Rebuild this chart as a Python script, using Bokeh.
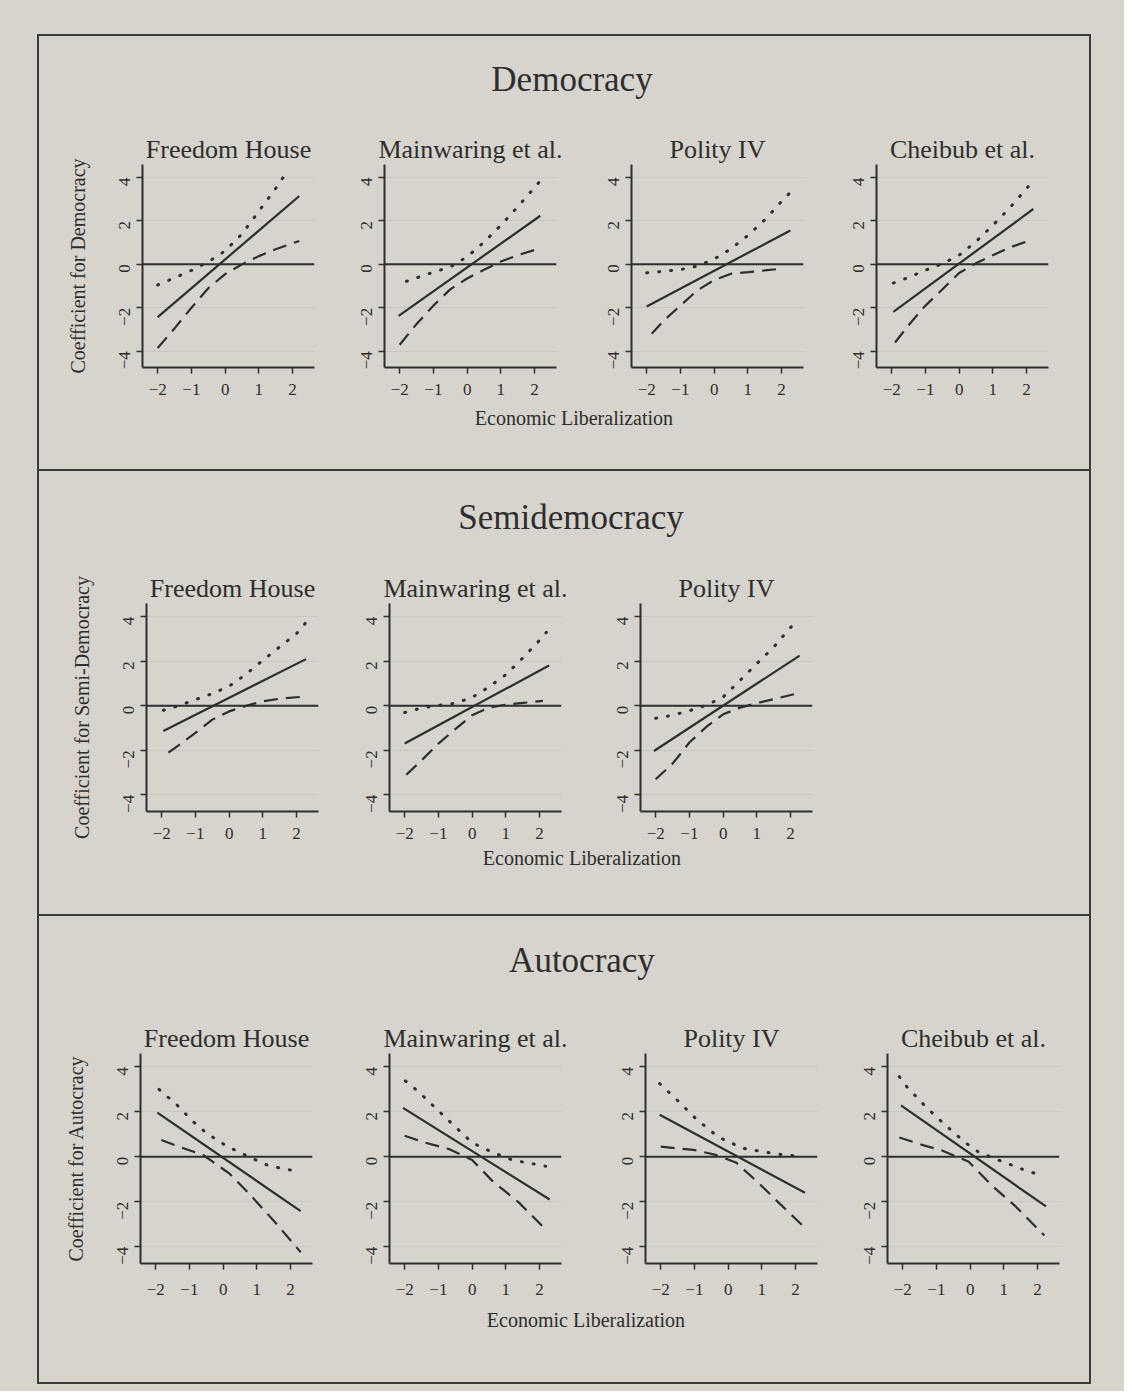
import math
from bokeh.plotting import figure
from bokeh.layouts import column, row
from bokeh.models import Div, Spacer, Span, FixedTicker, Range1d
from bokeh.embed import file_html
from bokeh.resources import INLINE

# ---------------- data ----------------
X_TICKS = [-2, -1, 0, 1, 2]
X_TICK_LABELS = ["−2", "−1", "0", "1", "2"]
Y_TICKS = [-4, -2, 0, 2, 4]
Y_TICK_LABELS = ["−4", "−2", "0", "2", "4"]

SECTION_TITLES = ["Democracy", "Semidemocracy", "Autocracy"]
Y_LABELS = ["Coefficient for Democracy", "Coefficient for Semi-Democracy", "Coefficient for Autocracy"]
X_LABEL = "Economic Liberalization"
DEM_TITLES = ["Freedom House", "Mainwaring et al.", "Polity IV", "Cheibub et al."]
SEMI_TITLES = ["Freedom House", "Mainwaring et al.", "Polity IV"]
AUT_TITLES = ["Freedom House", "Mainwaring et al.", "Polity IV", "Cheibub et al."]

# each series: list of [x, y] points (est = estimate, up = upper bound, lo = lower bound)
dem_fh_est = [[-2.0, -2.43], [2.2, 3.15]]
dem_fh_up = [[-2.0, -0.95], [-1.5, -0.62], [-1.0, -0.28], [-0.5, 0.12], [0.0, 0.62], [0.5, 1.4], [1.0, 2.45], [1.5, 3.5], [1.72, 4.0]]
dem_fh_lo = [[-2.0, -3.85], [-1.5, -2.95], [-1.0, -2.0], [-0.5, -1.1], [0.0, -0.45], [0.5, 0.0], [1.0, 0.38], [1.5, 0.7], [2.2, 1.08]]

dem_mw_est = [[-2.03, -2.37], [2.17, 2.24]]
dem_mw_up = [[-1.8, -0.78], [-1.0, -0.36], [-0.5, -0.12], [0.0, 0.35], [0.5, 1.02], [1.0, 1.8], [1.5, 2.65], [2.17, 3.85]]
dem_mw_lo = [[-2.0, -3.7], [-1.5, -2.75], [-1.0, -1.9], [-0.5, -1.15], [0.0, -0.65], [0.5, -0.25], [1.0, 0.13], [1.5, 0.42], [2.17, 0.75]]

dem_po_est = [[-2.0, -1.94], [2.26, 1.56]]
dem_po_up = [[-2.0, -0.39], [-1.5, -0.32], [-1.0, -0.24], [-0.5, -0.08], [0.0, 0.24], [0.5, 0.72], [1.0, 1.33], [1.5, 2.05], [2.0, 2.9], [2.25, 3.3]]
dem_po_lo = [[-1.85, -3.2], [-1.5, -2.6], [-1.0, -1.9], [-0.5, -1.2], [0.0, -0.72], [0.5, -0.43], [1.0, -0.36], [1.5, -0.28], [2.05, -0.19]]

dem_ch_est = [[-1.95, -2.19], [2.2, 2.55]]
dem_ch_up = [[-1.95, -0.86], [-1.5, -0.6], [-1.0, -0.27], [-0.5, 0.03], [0.0, 0.42], [0.5, 1.05], [1.0, 1.8], [1.5, 2.6], [2.17, 3.8]]
dem_ch_lo = [[-1.9, -3.6], [-1.5, -2.8], [-1.0, -1.9], [-0.5, -1.16], [0.0, -0.4], [0.5, 0.05], [1.0, 0.42], [1.5, 0.78], [2.17, 1.14]]

semi_fh_est = [[-1.95, -1.13], [2.28, 2.1]]
semi_fh_up = [[-1.95, -0.2], [-1.5, 0.0], [-1.0, 0.28], [-0.5, 0.55], [0.0, 0.88], [0.5, 1.42], [1.0, 2.05], [1.5, 2.65], [2.0, 3.25], [2.28, 3.75]]
semi_fh_lo = [[-1.8, -2.1], [-1.5, -1.78], [-1.0, -1.22], [-0.5, -0.62], [0.0, -0.25], [0.5, 0.0], [1.0, 0.2], [1.5, 0.32], [2.28, 0.42]]

semi_mw_est = [[-2.0, -1.69], [2.28, 1.81]]
semi_mw_up = [[-2.0, -0.3], [-1.5, -0.1], [-1.0, 0.02], [-0.5, 0.12], [0.0, 0.38], [0.5, 0.85], [1.0, 1.4], [1.5, 2.15], [2.0, 2.95], [2.2, 3.3]]
semi_mw_lo = [[-1.95, -3.1], [-1.5, -2.45], [-1.0, -1.7], [-0.5, -1.05], [0.0, -0.42], [0.5, -0.08], [1.0, 0.05], [1.5, 0.13], [2.1, 0.22]]

semi_po_est = [[-2.05, -2.03], [2.27, 2.26]]
semi_po_up = [[-2.0, -0.56], [-1.5, -0.42], [-1.0, -0.22], [-0.5, 0.02], [0.0, 0.4], [0.5, 1.14], [1.0, 1.9], [1.5, 2.64], [2.1, 3.7]]
semi_po_lo = [[-2.0, -3.3], [-1.5, -2.6], [-1.0, -1.65], [-0.5, -0.95], [0.0, -0.38], [0.5, -0.08], [1.0, 0.12], [1.5, 0.3], [2.1, 0.52]]

aut_fh_est = [[-1.95, 1.97], [2.3, -2.42]]
aut_fh_up = [[-1.9, 3.0], [-1.35, 2.28], [-0.87, 1.54], [-0.48, 1.04], [0.1, 0.48], [0.77, 0.0], [1.35, -0.4], [2.26, -0.67]]
aut_fh_lo = [[-1.83, 0.75], [-1.44, 0.52], [-0.58, 0.07], [0.19, -0.75], [0.77, -1.64], [1.54, -2.91], [2.3, -4.25]]

aut_mw_est = [[-2.05, 2.18], [2.3, -1.9]]
aut_mw_up = [[-1.98, 3.38], [-1.58, 2.89], [-1.09, 2.18], [-0.5, 1.34], [0.0, 0.63], [0.59, 0.21], [1.19, -0.14], [2.18, -0.42]]
aut_mw_lo = [[-2.0, 0.94], [-1.39, 0.63], [-0.69, 0.35], [0.0, -0.14], [0.59, -1.06], [1.39, -2.04], [2.23, -3.31]]

aut_po_est = [[-2.03, 1.87], [2.28, -1.6]]
aut_po_up = [[-2.03, 3.26], [-1.5, 2.51], [-0.93, 1.66], [-0.29, 0.88], [0.44, 0.38], [0.97, 0.24], [1.6, 0.1], [2.23, 0.0]]
aut_po_lo = [[-2.0, 0.45], [-1.03, 0.31], [-0.4, 0.1], [0.23, -0.25], [0.86, -1.1], [1.49, -2.03], [2.23, -3.09]]

aut_ch_est = [[-2.05, 2.29], [2.25, -2.21]]
aut_ch_up = [[-2.1, 3.57], [-1.85, 3.07], [-1.3, 2.21], [-0.75, 1.43], [-0.15, 0.64], [0.25, 0.21], [0.95, -0.21], [1.7, -0.64], [2.2, -0.86]]
aut_ch_lo = [[-2.1, 0.86], [-1.35, 0.5], [-0.85, 0.29], [-0.05, -0.21], [0.65, -1.29], [1.35, -2.21], [2.2, -3.5]]

# ---------------- style ----------------
BG = "#d6d4cc"
INK = "#2e2e2e"
FONT = "Liberation Serif"
FRAME_W = 172
CONTENT_W = 1050


def make_panel(title, est, up, lo, left, right, top, frame_h, bottom, ylabel=None, x_standoff=10):
    p = figure(width=left + FRAME_W + right, height=top + frame_h + bottom,
               x_range=Range1d(-2.45, 2.65), y_range=Range1d(-4.75, 4.6),
               output_backend="svg", toolbar_location=None,
               min_border_left=left, min_border_right=right,
               min_border_top=top, min_border_bottom=bottom,
               background_fill_color=BG, border_fill_color=BG,
               outline_line_color=None, title=title)
    p.title.text_font = FONT
    p.title.text_font_size = "26px"
    p.title.text_font_style = "normal"
    p.title.text_color = INK
    p.title.align = "center"
    p.title.standoff = 2

    p.xaxis.ticker = FixedTicker(ticks=X_TICKS)
    p.xaxis.major_label_overrides = dict(zip(X_TICKS, X_TICK_LABELS))
    p.yaxis.ticker = FixedTicker(ticks=Y_TICKS)
    p.yaxis.major_label_overrides = dict(zip(Y_TICKS, Y_TICK_LABELS))
    p.yaxis.major_label_orientation = math.pi / 2
    for ax in (p.xaxis, p.yaxis):
        ax.axis_line_color = INK
        ax.axis_line_width = 2
        ax.major_tick_line_color = INK
        ax.major_tick_line_width = 1.5
        ax.major_tick_in = 0
        ax.major_tick_out = 6
        ax.minor_tick_line_color = None
        ax.major_label_text_font = FONT
        ax.major_label_text_font_size = "17px"
        ax.major_label_text_color = INK
    p.xaxis.major_label_standoff = x_standoff
    p.yaxis.major_label_standoff = 12
    if ylabel:
        p.yaxis.axis_label = ylabel
        p.yaxis.axis_label_text_font = FONT
        p.yaxis.axis_label_text_font_size = "20px"
        p.yaxis.axis_label_text_font_style = "normal"
        p.yaxis.axis_label_text_color = INK
        p.yaxis.axis_label_standoff = 22

    p.xgrid.visible = False
    p.ygrid.ticker = FixedTicker(ticks=Y_TICKS)
    p.ygrid.grid_line_color = "#c8c6be"
    p.ygrid.grid_line_width = 1

    p.add_layout(Span(location=0, dimension="width", line_color=INK, line_width=2))
    p.line([a[0] for a in est], [a[1] for a in est], line_color=INK, line_width=2.2)
    p.line([a[0] for a in up], [a[1] for a in up], line_color=INK, line_width=3,
           line_dash="1 11", line_cap="round")
    p.line([a[0] for a in lo], [a[1] for a in lo], line_color=INK, line_width=2.2,
           line_dash="14 8")
    return p


def text_div(txt, w, h, size, pad_top, pad_left):
    html = (f'<div style="box-sizing:border-box;width:{w}px;font-family:\'{FONT}\';font-size:{size}px;'
            f'line-height:{int(size*1.2)}px;text-align:center;color:{INK};'
            f'padding-top:{pad_top}px;padding-left:{pad_left}px;white-space:nowrap">{txt}</div>')
    return Div(text=html, width=w, height=h, margin=0)


def panel_row(titles, data, lefts, top, frame_h, bottom, ylabel, x_standoff):
    figs = []
    starts = [0] + [l - 55 for l in lefts[1:]]
    n = len(lefts)
    for i in range(n):
        start = starts[i]
        end = starts[i + 1] if i + 1 < n else (CONTENT_W if n == 4 else lefts[i] + FRAME_W + 20)
        left = lefts[i] - start
        right = end - (lefts[i] + FRAME_W)
        est, up, lo = data[i]
        figs.append(make_panel(titles[i], est, up, lo, left, right, top, frame_h, bottom,
                               ylabel=ylabel if i == 0 else None, x_standoff=x_standoff))
    used = sum(f.width for f in figs)
    children = list(figs)
    if used < CONTENT_W:
        children.append(Spacer(width=CONTENT_W - used, height=top + frame_h + bottom, margin=0))
    return row(children, spacing=0, margin=0)


def section(title, title_h, title_pad, title_pl, prow, xl_h, xl_pad, xl_pl):
    return column([
        text_div(title, CONTENT_W, title_h, 35, title_pad, title_pl),
        prow,
        text_div(X_LABEL, CONTENT_W, xl_h, 20, xl_pad, xl_pl),
    ], spacing=0, margin=0)


def hline():
    return Spacer(width=CONTENT_W + 4, height=2, margin=0, styles={"background-color": "#3a3a3a"})


def framed(content, h):
    return row([Spacer(width=2, height=h, margin=0, styles={"background-color": "#3a3a3a"}),
                content,
                Spacer(width=2, height=h, margin=0, styles={"background-color": "#3a3a3a"})],
               spacing=0, margin=0)


dem_row = panel_row(DEM_TITLES,
                    [(dem_fh_est, dem_fh_up, dem_fh_lo), (dem_mw_est, dem_mw_up, dem_mw_lo),
                     (dem_po_est, dem_po_up, dem_po_lo), (dem_ch_est, dem_ch_up, dem_ch_lo)],
                    [103, 345, 592, 837], 58, 203, 35, Y_LABELS[0], 10)
semi_row = panel_row(SEMI_TITLES,
                     [(semi_fh_est, semi_fh_up, semi_fh_lo), (semi_mw_est, semi_mw_up, semi_mw_lo),
                      (semi_po_est, semi_po_up, semi_po_lo)],
                     [107, 350, 601], 62, 208, 35, Y_LABELS[1], 10)
aut_row = panel_row(AUT_TITLES,
                    [(aut_fh_est, aut_fh_up, aut_fh_lo), (aut_mw_est, aut_mw_up, aut_mw_lo),
                     (aut_po_est, aut_po_up, aut_po_lo), (aut_ch_est, aut_ch_up, aut_ch_lo)],
                    [101, 350, 606, 848], 62, 210, 40, Y_LABELS[2], 14)

s1 = section(SECTION_TITLES[0], 70, 23, 16, dem_row, 67, 4, 20)
s2 = section(SECTION_TITLES[1], 70, 26, 14, semi_row, 68, 0, 36)
s3 = section(SECTION_TITLES[2], 75, 24, 36, aut_row, 79, 5, 44)

frame_col = column([hline(), framed(s1, 433), hline(), framed(s2, 443), hline(),
                    framed(s3, 466), hline()], spacing=0, margin=0)

TOTAL_W = 1124
root = column([
    Spacer(width=TOTAL_W, height=34, margin=0),
    row([Spacer(width=37, height=1351, margin=0), frame_col,
         Spacer(width=TOTAL_W - 37 - CONTENT_W - 4, height=1351, margin=0)], spacing=0, margin=0),
    Spacer(width=TOTAL_W, height=6, margin=0),
], spacing=0, margin=0, styles={"background-color": BG})

open("out.html", "w").write(file_html(root, INLINE))
